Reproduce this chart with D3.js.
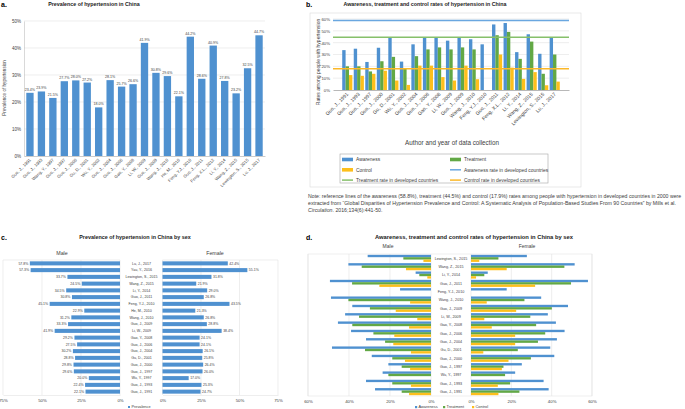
<!DOCTYPE html>
<html>
<head>
<meta charset="utf-8">
<title>Hypertension in China</title>
<style>
  html, body { margin: 0; padding: 0; background: #fff; }
  svg { display: block; }
  text { font-family: "Liberation Sans", Arial, sans-serif; fill: #404040; }
  .ttl { font-weight: bold; fill: #1a1a1a; }
  .plab { font-weight: bold; fill: #000; font-size: 7px; }
</style>
</head>
<body>
<script src="https://cdn.jsdelivr.net/npm/d3@7"></script>
<script>
// ---- data ----
var prevCats = ["Guo, J., 1991", "Guo, J., 1993", "Wang, Y., 1997", "Guo, J., 1997", "Guo, J., 2000",
  "Gu, D., 2001", "Wu, Y., 2002", "Guo, J., 2004", "Guo, J., 2006", "Gao, Y., 2008", "Li, W., 2009",
  "Guo, J., 2009", "Wang, J., 2010", "He, M., 2010", "Feng, Y.J., 2010", "Guo, J., 2011",
  "Feng, X.L., 2012", "Li, Y., 2014", "Wang, Z., 2015", "Lewington, S., 2015", "Lu, J., 2017"];
var prevVals = [23.4, 23.9, 21.5, 27.7, 28.0, 27.2, 18.0, 28.1, 25.7, 26.6, 41.9, 30.8, 29.6, 22.1,
  44.2, 28.6, 40.9, 27.8, 23.2, 32.5, 44.7];

var rateCats = ["Guo, J., 1991", "Guo, J., 1993", "Guo, J., 1997", "Guo, J., 2000", "Gu, D., 2001",
  "Wu, Y., 2002", "Guo, J., 2004", "Guo, J., 2006", "Gao, Y., 2008", "Li, W., 2009", "Guo, J., 2009",
  "Wang, J., 2010", "Feng, Y.J., 2010", "Guo, J., 2011", "Feng, X.L., 2012", "Li, Y., 2014",
  "Wang, Z., 2015", "Lewington, S., 2015", "Lu, J., 2017"];
var awareness = [33.7, 34.9, 23.7, 35.7, 44.3, 24.0, 38.6, 44.3, 44.3, 41.7, 44.3, 42.9, 38.6, 55.4, 56.6, 32.0, 47.1, 30.6, 44.3];
var treatment = [20.0, 20.0, 15.7, 24.3, 28.0, 18.6, 28.6, 34.3, 36.0, 34.3, 36.0, 34.3, null, 46.3, 49.1, 26.3, 40.9, 13.7, 30.0];
var control = [12.6, 12.0, 13.7, 16.3, 8.0, 4.3, 20.6, 20.6, 10.9, 8.0, 20.6, 9.1, null, 30.0, 18.9, 9.4, 15.1, 4.0, 7.1];
var refRates = [58.8, 44.5, 17.9]; // awareness, treatment, control in developed countries (2000)

var sexCats = ["Lu, J., 2017", "Yau, Y., 2016", "Lewington, S., 2015", "Wang, Z., 2015", "Li, Y., 2014",
  "Guo, J., 2011", "Feng, Y.J., 2010", "He, M., 2010", "Wang, J., 2010", "Guo, J., 2009", "Li, W., 2009",
  "Gao, Y., 2008", "Guo, J., 2006", "Guo, J., 2004", "Gu, D., 2001", "Guo, J., 2000", "Guo, J., 1997",
  "Wu, Y., 1997", "Guo, J., 1993", "Guo, J., 1991"];
var malePrev = [57.8, 57.3, 33.7, 24.5, 34.5, 30.8, 45.1, 22.9, 31.2, 33.3, 41.9, 29.2, 27.5, 30.2, 28.8, 29.8, 29.6, 20.0, 22.4, 22.1];
var femalePrev = [42.4, 55.1, 31.8, 21.9, 29.0, 26.8, 43.5, 21.3, 26.8, 28.8, 38.4, 24.1, 24.1, 26.1, 25.8, 26.4, 26.0, 17.0, 25.3, 24.7];

var sexRateCats = ["Lewington, S., 2015", "Wang, Z., 2015", "Li, Y., 2014", "Guo, J., 2011", "Feng, Y.J., 2010",
  "Wang, J., 2010", "Guo, J., 2009", "Li, W., 2009", "Gao, Y., 2008", "Guo, J., 2006", "Guo, J., 2004",
  "Gu, D., 2001", "Guo, J., 2000", "Guo, J., 1997", "Wu, Y., 1997", "Guo, J., 1993", "Guo, J., 1991"];
var maleAware = [30.9, 40.3, 7.5, 49.3, 15.1, 48.8, 38.4, 41.9, 45.4, 39.0, 31.7, 48.3, 28.9, 20.8, 23.6, 31.7, 27.3];
var maleTreat = [13.5, 33.8, 5.7, 38.5, null, 40.3, 29.8, 35.1, 38.4, 28.1, 22.4, 32.2, 18.9, 14.3, 20.8, 18.9, 14.3];
var maleCtrl = [3.7, 12.2, 1.8, 25.2, null, 10.2, 17.2, 6.7, 10.7, 17.9, 18.4, 9.8, 12.7, 10.2, null, 9.8, 10.7];
var femaleAware = [27.7, 51.4, 8.3, 58.0, 17.7, 34.8, 48.1, 38.1, 42.1, 46.4, 42.6, 39.3, 41.3, 25.2, 21.9, 36.0, 38.5];
var femaleTreat = [13.6, 46.3, 6.6, 49.6, null, 26.5, 40.1, 29.4, 32.3, 36.8, 33.2, 23.2, 29.7, 16.1, 16.9, 19.4, 24.0];
var femaleCtrl = [4.1, 17.7, 2.5, 31.8, null, 7.8, 22.4, 6.6, 10.3, 21.9, 21.9, 6.1, 18.6, 15.3, null, 13.3, 13.6];

var seriesNames = ["Awareness", "Treatment", "Control"];
var colors = {Awareness: "#4f91d0", Treatment: "#62a845", Control: "#fdbf1c"};
var refColors = ["#6aa7e0", "#86c06a", "#fbb829"];
var grid = "#e3e3e3";

var svg = d3.select("body").append("svg")
  .attr("width", 685).attr("height", 409);
svg.append("rect").attr("width", 685).attr("height", 409).attr("fill", "#fff");

function pct(d) { return d + "%"; }
function styleTicks(ax, size) {
  ax.selectAll("text").style("font-size", size).style("font-family", "Liberation Sans, Arial, sans-serif").attr("fill", "#404040");
}

// ================= panel a =================
var ga = svg.append("g");
ga.append("text").attr("class", "plab").attr("x", 1).attr("y", 7).text("a.");
ga.append("text").attr("class", "ttl").attr("x", 94).attr("y", 6).attr("text-anchor", "middle")
  .style("font-size", "5.3px").text("Prevalence of hypertension in China");

var xa = d3.scaleBand().domain(prevCats).range([24, 265]).paddingInner(0.36).paddingOuter(0.2);
var ya = d3.scaleLinear().domain([0, 50]).range([156, 21]);

ga.selectAll(".gl").data(ya.ticks(5).slice(1)).enter().append("line")
  .attr("x1", 24).attr("x2", 265).attr("y1", d => ya(d)).attr("y2", d => ya(d))
  .attr("stroke", grid).attr("stroke-width", 0.6);

var axA = ga.append("g").attr("transform", "translate(24,0)")
  .call(d3.axisLeft(ya).ticks(5).tickSize(0).tickPadding(3).tickFormat(pct));
axA.select(".domain").attr("stroke", "#bfbfbf").attr("stroke-width", 0.6);
styleTicks(axA, "4.5px");

ga.selectAll(".bar").data(prevVals).enter().append("rect")
  .attr("x", (d, i) => xa(prevCats[i])).attr("width", xa.bandwidth())
  .attr("y", d => ya(d)).attr("height", d => ya(0) - ya(d))
  .attr("fill", colors.Awareness);

ga.selectAll(".vl").data(prevVals).enter().append("text")
  .attr("x", (d, i) => xa(prevCats[i]) + xa.bandwidth() / 2).attr("y", d => ya(d) - 2)
  .attr("text-anchor", "middle").style("font-size", "3.6px").text(d => d.toFixed(1) + "%");

var bxA = ga.append("g").attr("transform", "translate(0,156)")
  .call(d3.axisBottom(xa).tickSize(0).tickPadding(2));
bxA.select(".domain").attr("stroke", "#bfbfbf").attr("stroke-width", 0.8);
styleTicks(bxA, "4.3px");
bxA.selectAll("text").attr("text-anchor", "end").attr("dy", "0.3em")
  .attr("transform", "translate(-1,2) rotate(-45)");

ga.append("text").attr("transform", "translate(6,88) rotate(-90)").attr("text-anchor", "middle")
  .style("font-size", "4.6px").text("Prevalence of hypertension");

// ================= panel b =================
var gb = svg.append("g");
gb.append("text").attr("class", "plab").attr("x", 306).attr("y", 7).text("b.");
gb.append("text").attr("class", "ttl").attr("x", 425).attr("y", 6).attr("text-anchor", "middle")
  .style("font-size", "5.3px").text("Awareness, treatment and control rates of hypertension in China");
gb.append("rect").attr("x", 310).attr("y", 13).attr("width", 271).attr("height", 174)
  .attr("fill", "none").attr("stroke", "#d9d9d9").attr("stroke-width", 0.6);

var xb = d3.scaleBand().domain(rateCats).range([333, 569]).paddingInner(0.12).paddingOuter(0.8);
var xbIn = d3.scaleBand().domain(seriesNames).range([0, xb.bandwidth()]);
var yb = d3.scaleLinear().domain([0, 60]).range([90, 19]);

gb.selectAll(".gl").data(yb.ticks(6).slice(1)).enter().append("line")
  .attr("x1", 333).attr("x2", 569).attr("y1", d => yb(d)).attr("y2", d => yb(d))
  .attr("stroke", grid).attr("stroke-width", 0.6);

var axB = gb.append("g").attr("transform", "translate(333,0)")
  .call(d3.axisLeft(yb).ticks(6).tickSize(0).tickPadding(3).tickFormat(pct));
axB.select(".domain").remove();
styleTicks(axB, "4.3px");

var rateSeries = [awareness, treatment, control];
seriesNames.forEach(function (s, k) {
  var rows = rateCats.map((c, i) => ({c: c, v: rateSeries[k][i]})).filter(d => d.v !== null);
  gb.append("g").selectAll("rect").data(rows).enter().append("rect")
    .attr("x", d => xb(d.c) + xbIn(s)).attr("width", xbIn.bandwidth())
    .attr("y", d => yb(d.v)).attr("height", d => yb(0) - yb(d.v))
    .attr("fill", colors[s]);
});

var bxB = gb.append("g").attr("transform", "translate(0,90)")
  .call(d3.axisBottom(xb).tickSize(0).tickPadding(2));
bxB.select(".domain").attr("stroke", "#a6a6a6").attr("stroke-width", 0.8);
styleTicks(bxB, "5px");
bxB.selectAll("text").attr("text-anchor", "end").attr("dy", "0.3em")
  .attr("transform", "translate(-1,2) rotate(-45)");

// reference lines
refRates.forEach(function (r, k) {
  gb.append("line").attr("x1", 333).attr("x2", 569).attr("y1", yb(r)).attr("y2", yb(r))
    .attr("stroke", refColors[k]).attr("stroke-width", 1.5);
});

gb.append("text").attr("transform", "translate(320,62) rotate(-90)").attr("text-anchor", "middle")
  .style("font-size", "5px").text("Rates among people with hypertension");
gb.append("text").attr("x", 452).attr("y", 145).attr("text-anchor", "middle")
  .style("font-size", "6.3px").text("Author and year of data collection");

// legend
gb.append("rect").attr("x", 340).attr("y", 154).attr("width", 208).attr("height", 29)
  .attr("fill", "none").attr("stroke", "#a6a6a6").attr("stroke-width", 0.6);
var legItems = [
  {t: "Awareness", c: colors.Awareness, bar: true},
  {t: "Treatment", c: colors.Treatment, bar: true},
  {t: "Control", c: colors.Control, bar: true},
  {t: "Awareness rate in developed countries", c: refColors[0]},
  {t: "Treatment rate in developed countries", c: refColors[1]},
  {t: "Control rate in developed countries", c: refColors[2]}
];
legItems.forEach(function (it, i) {
  var lx = i % 2 === 0 ? 342 : 450, ly = 159.5 + Math.floor(i / 2) * 10.3;
  if (it.bar) {
    gb.append("rect").attr("x", lx).attr("y", ly - 1.8).attr("width", 11).attr("height", 3.6).attr("fill", it.c);
  } else {
    gb.append("line").attr("x1", lx).attr("x2", lx + 11).attr("y1", ly).attr("y2", ly)
      .attr("stroke", it.c).attr("stroke-width", 1.5);
  }
  gb.append("text").attr("x", lx + 14).attr("y", ly + 1.7).style("font-size", "4.9px").text(it.t);
});

// note
var note = gb.append("text").attr("x", 308).attr("y", 197.5).style("font-size", "5.2px").attr("fill", "#262626");
note.append("tspan").attr("x", 308).attr("dy", 0)
  .text("Note: reference lines of the awareness (58.8%), treatment (44.5%) and control (17.9%) rates among people with hypertension in developed countries in 2000 were");
note.append("tspan").attr("x", 308).attr("dy", 7.3)
  .text("extracted from \u201cGlobal Disparities of Hypertension Prevalence and Control: A Systematic Analysis of Population-Based Studies From 90 Countries\u201d by Mills et al.");
note.append("tspan").attr("x", 308).attr("dy", 7.3).style("font-style", "italic").text("Circulation");
note.append("tspan").text(". 2016;134(6):441-50.");

// ================= panel c =================
var gc = svg.append("g");
gc.append("text").attr("class", "plab").attr("x", 1).attr("y", 240).text("c.");
gc.append("text").attr("class", "ttl").attr("x", 135).attr("y", 239).attr("text-anchor", "middle")
  .style("font-size", "5.4px").text("Prevalence of hypertension in China by sex");

var yc = d3.scaleBand().domain(sexCats).range([260, 395]).paddingInner(0.4).paddingOuter(0.2);
var xcM = d3.scaleLinear().domain([0, 75]).range([120, 3]);
var xcF = d3.scaleLinear().domain([0, 75]).range([162.5, 278]);

[xcM, xcF].forEach(function (sc) {
  gc.selectAll(null).data([0, 25, 50, 75]).enter().append("line")
    .attr("x1", d => sc(d)).attr("x2", d => sc(d)).attr("y1", 260).attr("y2", 395)
    .attr("stroke", grid).attr("stroke-width", 0.6);
  gc.append("line").attr("x1", sc(0)).attr("x2", sc(75)).attr("y1", 260).attr("y2", 260)
    .attr("stroke", grid).attr("stroke-width", 0.6);
  var ax = gc.append("g").attr("transform", "translate(0,395)")
    .call(d3.axisBottom(sc).tickValues([0, 25, 50, 75]).tickSize(0).tickPadding(4).tickFormat(pct));
  ax.select(".domain").attr("stroke", grid).attr("stroke-width", 0.6);
  styleTicks(ax, "4.3px");
});

gc.selectAll(".mb").data(malePrev).enter().append("rect")
  .attr("x", d => xcM(d)).attr("width", d => xcM(0) - xcM(d))
  .attr("y", (d, i) => yc(sexCats[i])).attr("height", yc.bandwidth()).attr("fill", colors.Awareness);
gc.selectAll(".fb").data(femalePrev).enter().append("rect")
  .attr("x", xcF(0)).attr("width", d => xcF(d) - xcF(0))
  .attr("y", (d, i) => yc(sexCats[i])).attr("height", yc.bandwidth()).attr("fill", colors.Awareness);

gc.selectAll(".ml").data(malePrev).enter().append("text")
  .attr("x", d => xcM(d) - 1.5).attr("y", (d, i) => yc(sexCats[i]) + yc.bandwidth() / 2 + 1.2)
  .attr("text-anchor", "end").style("font-size", "3.5px").text(d => d.toFixed(1) + "%");
gc.selectAll(".fl").data(femalePrev).enter().append("text")
  .attr("x", d => xcF(d) + 1.5).attr("y", (d, i) => yc(sexCats[i]) + yc.bandwidth() / 2 + 1.2)
  .style("font-size", "3.5px").text(d => d.toFixed(1) + "%");
gc.selectAll(".cl").data(sexCats).enter().append("text")
  .attr("x", 141.5).attr("y", d => yc(d) + yc.bandwidth() / 2 + 1.2)
  .attr("text-anchor", "middle").style("font-size", "3.6px").text(d => d);

gc.append("text").attr("x", 62).attr("y", 255).attr("text-anchor", "middle").style("font-size", "5.3px").text("Male");
gc.append("text").attr("x", 215).attr("y", 255).attr("text-anchor", "middle").style("font-size", "5.3px").text("Female");
gc.append("rect").attr("x", 128).attr("y", 406).attr("width", 2).attr("height", 2).attr("fill", colors.Awareness);
gc.append("text").attr("x", 131.5).attr("y", 408.3).style("font-size", "3.8px").text("Prevalence");

// ================= panel d =================
var gd = svg.append("g");
gd.append("text").attr("class", "plab").attr("x", 306).attr("y", 240).text("d.");
gd.append("text").attr("class", "ttl").attr("x", 375).attr("y", 239)
  .style("font-size", "5.8px").text("Awareness, treatment and control rates of hypertension in China by sex");
gd.append("rect").attr("x", 308).attr("y", 254).attr("width", 284).attr("height", 142)
  .attr("fill", "none").attr("stroke", grid).attr("stroke-width", 0.6);

var yd = d3.scaleBand().domain(sexRateCats).range([254, 396]).paddingInner(0.15).paddingOuter(0.1);
var ydIn = d3.scaleBand().domain(seriesNames).range([0, yd.bandwidth()]);
var xdM = d3.scaleLinear().domain([0, 60]).range([431, 308]);
var xdF = d3.scaleLinear().domain([0, 60]).range([471, 592]);

[xdM, xdF].forEach(function (sc) {
  gd.selectAll(null).data([0, 20, 40, 60]).enter().append("line")
    .attr("x1", d => sc(d)).attr("x2", d => sc(d)).attr("y1", 254).attr("y2", 396)
    .attr("stroke", grid).attr("stroke-width", 0.6);
  var ax = gd.append("g").attr("transform", "translate(0,396)")
    .call(d3.axisBottom(sc).tickValues([0, 20, 40, 60]).tickSize(0).tickPadding(3.5).tickFormat(pct));
  ax.select(".domain").remove();
  styleTicks(ax, "4.3px");
});

var maleSets = [maleAware, maleTreat, maleCtrl];
var femaleSets = [femaleAware, femaleTreat, femaleCtrl];
seriesNames.forEach(function (s, k) {
  var mRows = sexRateCats.map((c, i) => ({c: c, v: maleSets[k][i]})).filter(d => d.v !== null);
  var fRows = sexRateCats.map((c, i) => ({c: c, v: femaleSets[k][i]})).filter(d => d.v !== null);
  gd.append("g").selectAll("rect").data(mRows).enter().append("rect")
    .attr("x", d => xdM(d.v)).attr("width", d => xdM(0) - xdM(d.v))
    .attr("y", d => yd(d.c) + ydIn(s)).attr("height", ydIn.bandwidth()).attr("fill", colors[s]);
  gd.append("g").selectAll("rect").data(fRows).enter().append("rect")
    .attr("x", xdF(0)).attr("width", d => xdF(d.v) - xdF(0))
    .attr("y", d => yd(d.c) + ydIn(s)).attr("height", ydIn.bandwidth()).attr("fill", colors[s]);
});

gd.selectAll(".cl").data(sexRateCats).enter().append("text")
  .attr("x", 451).attr("y", d => yd(d) + yd.bandwidth() / 2 + 1.3)
  .attr("text-anchor", "middle").style("font-size", "3.7px").text(d => d);

gd.append("text").attr("x", 388).attr("y", 248).attr("text-anchor", "middle").style("font-size", "5px").text("Male");
gd.append("text").attr("x", 527).attr("y", 248).attr("text-anchor", "middle").style("font-size", "5px").text("Female");

var lgx = [415, 443, 472];
seriesNames.forEach(function (s, k) {
  gd.append("rect").attr("x", lgx[k]).attr("y", 406).attr("width", 2.2).attr("height", 2.2).attr("fill", colors[s]);
  gd.append("text").attr("x", lgx[k] + 3.5).attr("y", 408.3).style("font-size", "3.9px").text(s);
});
</script>
</body>
</html>
